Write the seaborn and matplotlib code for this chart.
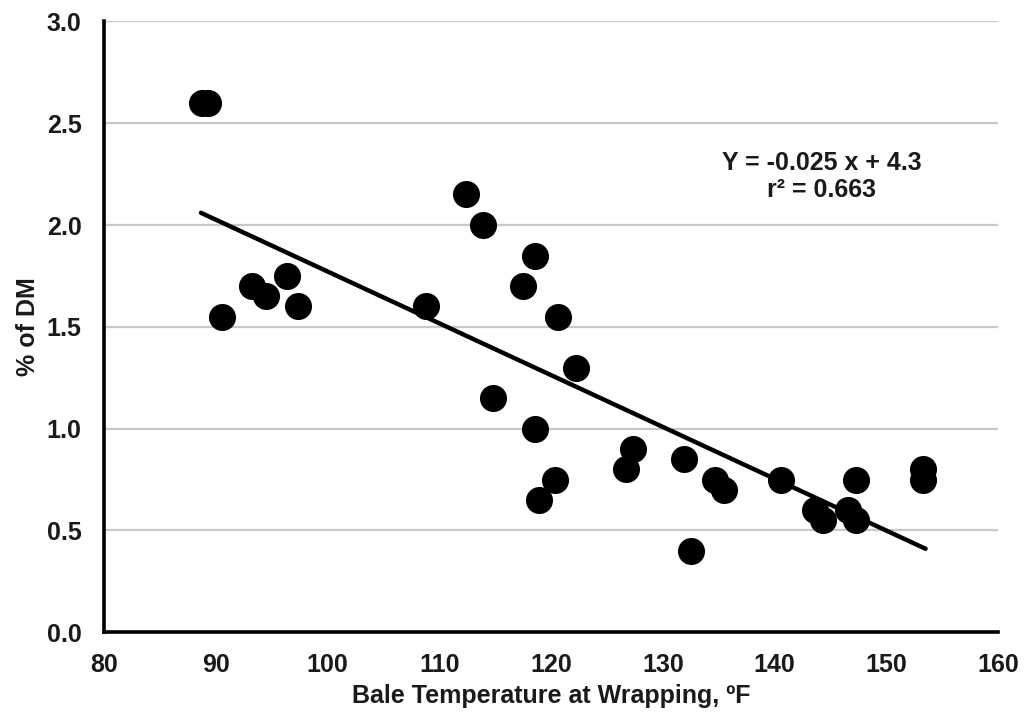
import matplotlib
matplotlib.use("Agg")
import matplotlib.pyplot as plt
import seaborn as sns
import pandas as pd

# Data
bale_temp_f = [88.8, 89.3, 90.6, 93.3, 94.5, 96.4, 97.4, 108.8, 112.4, 113.9,
               114.8, 117.5, 118.6, 120.6, 122.2, 118.6, 118.9, 120.4, 126.7, 127.3,
               131.9, 132.5, 134.7, 135.5, 140.6, 143.6, 144.3, 146.6, 147.3, 147.3,
               153.3, 153.3]
pct_dm = [2.60, 2.60, 1.55, 1.70, 1.65, 1.75, 1.60, 1.60, 2.15, 2.00,
          1.15, 1.70, 1.85, 1.55, 1.30, 1.00, 0.65, 0.75, 0.80, 0.90,
          0.85, 0.40, 0.75, 0.70, 0.75, 0.60, 0.55, 0.60, 0.55, 0.75,
          0.80, 0.75]
fit_x = [88.7, 153.5]
fit_y = [2.06, 0.41]
x_ticks = [80, 90, 100, 110, 120, 130, 140, 150, 160]
y_ticks = [0.0, 0.5, 1.0, 1.5, 2.0, 2.5, 3.0]
x_label = "Bale Temperature at Wrapping, ºF"
y_label = "% of DM"
equation_text = "Y = -0.025 x + 4.3\nr² = 0.663"

sns.set_style("white")
plt.rcParams['font.family'] = ['Liberation Sans', 'DejaVu Sans']

fig = plt.figure(figsize=(10.27, 7.14), dpi=100)
ax = fig.add_axes([0.101, 0.1145, 0.871, 0.8555])

df = pd.DataFrame({"x": bale_temp_f, "y": pct_dm})
fit_df = pd.DataFrame({"x": fit_x, "y": fit_y})

ax.set_xlim(80, 160)
ax.set_ylim(0, 3.0)
ax.set_yticks(y_ticks)
ax.set_xticks(x_ticks)
ax.yaxis.grid(True, color="#c8c8c8", linewidth=1.6, zorder=0)
ax.xaxis.grid(False)
ax.set_axisbelow(True)

sns.lineplot(data=fit_df, x="x", y="y", ax=ax, color="black", linewidth=3.2,
             zorder=3)
sns.scatterplot(data=df, x="x", y="y", ax=ax, s=380, color="black",
                edgecolor="black", linewidth=0, zorder=4)

ax.set_xticklabels([str(v) for v in x_ticks])
ax.set_yticklabels([f"{v:.1f}" for v in y_ticks])

for side in ["top", "right"]:
    ax.spines[side].set_visible(False)
for side in ["left", "bottom"]:
    ax.spines[side].set_color("black")
    ax.spines[side].set_linewidth(2.6)

ax.tick_params(axis="both", which="major", direction="out", length=6,
               width=2.2, color="black", labelsize=18)
ax.tick_params(axis="x", pad=9)
ax.tick_params(axis="y", pad=10)
for lbl in ax.get_xticklabels() + ax.get_yticklabels():
    lbl.set_fontweight("bold")
    lbl.set_color("#1a1a1a")

ax.set_xlabel(x_label, fontsize=18, fontweight="bold", color="#1a1a1a",
              labelpad=5)
ax.set_ylabel(y_label, fontsize=18, fontweight="bold", color="#1a1a1a",
              labelpad=5)

ax.text(144.2, 2.238, equation_text, ha="center", va="center",
        fontsize=18, fontweight="bold", color="#1a1a1a", linespacing=1.12)

fig.savefig("out.png", dpi=100, facecolor="white")
